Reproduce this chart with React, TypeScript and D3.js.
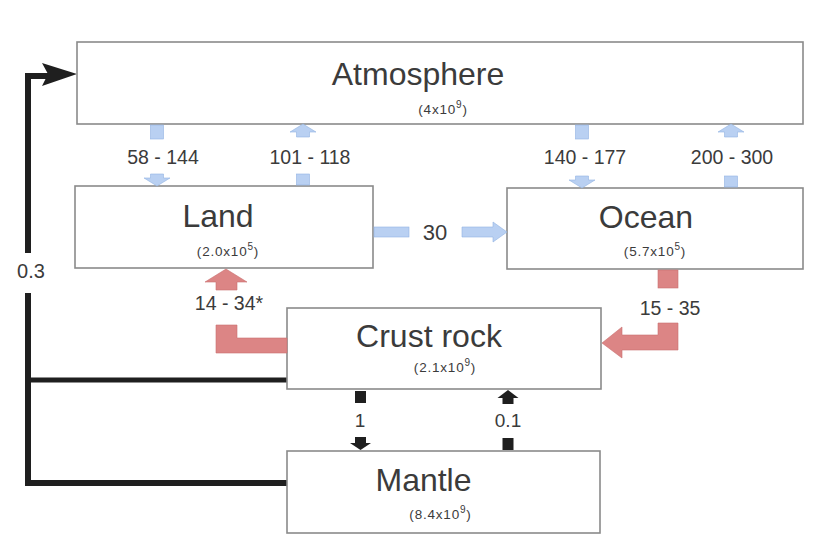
import React from "react";
import * as d3 from "d3";

// ---- data ----
const boxNames = ["Atmosphere", "Land", "Ocean", "Crust rock", "Mantle"];
const reservoirMantissa = ["4", "2.0", "5.7", "2.1", "8.4"];
const reservoirExponent = ["9", "5", "5", "9", "9"];
const blueFlowLabels = ["58 - 144", "101 - 118", "140 - 177", "200 - 300", "30"];
const redFlowLabels = ["14 - 34*", "15 - 35"];
const blackFlowLabels = ["1", "0.1", "0.3"];

// ---- layout ----
const W = 817, H = 554;
const boxes = [
  { x0: 77, y0: 42, x1: 803, y1: 124 },
  { x0: 75, y0: 186, x1: 373, y1: 268 },
  { x0: 507, y0: 188, x1: 803, y1: 269 },
  { x0: 287, y0: 308, x1: 601, y1: 389 },
  { x0: 287, y0: 451, x1: 600, y1: 533 },
];
const titleDy = [43, 41, 40, 39, 40];
const titleDx = [-22, -6, -9, -15, -20];
const subDy = [72, 70, 68, 64, 68];
const subDx = [3, 4, 0, 1, -3];

const BLUE = "#b9d0f2";
const BLUE_S = "#92b3e3";
const RED = "#dc8585";
const RED_S = "#c97070";
const DARK = "#1f1f1f";
const TXT = "#3b3b3b";

const line = d3.line<[number, number]>();
const poly = (pts: [number, number][]) => line(pts) + "Z";

function vHead(cx: number, tip: number, base: number, hw: number, sw: number, stemEnd: number) {
  return poly([
    [cx - sw / 2, stemEnd],
    [cx + sw / 2, stemEnd],
    [cx + sw / 2, base],
    [cx + hw / 2, base],
    [cx, tip],
    [cx - hw / 2, base],
    [cx - sw / 2, base],
  ]);
}

export default function App() {
  const [atm, land, ocean, crust, mantle] = boxes;
  const bx = d3.scaleIdentity();
  const by = d3.scaleIdentity();

  const blueCols = [157, 303, 582, 731];
  const blueDown = [true, false, true, false];

  return (
    <svg width={W} height={H} style={{ position: "absolute", left: 0, top: 0, background: "#fff" }}
      fontFamily="'Liberation Sans', Arial, Helvetica, sans-serif">
      <rect width={W} height={H} fill="#fff" />
      {/* black 0.3 path */}
      <path d={line([[crust.x0, 380], [28, 380]])!} stroke={DARK} strokeWidth={5} fill="none" />
      <path d={line([[mantle.x0, 483], [28, 483], [28, 76], [50, 76]])!} stroke={DARK} strokeWidth={6} fill="none" strokeLinejoin="miter" />
      <path d={poly([[42, 63], [atm.x0, 74], [42, 86], [48, 74]])} fill={DARK} />
      <rect x={10} y={253} width={40} height={40} fill="#fff" />
      <text x={31} y={278} textAnchor="middle" fontSize={20} fill={TXT}>{blackFlowLabels[2]}</text>

      {/* boxes */}
      {boxes.map((b, i) => (
        <g key={i}>
          <rect x={bx(b.x0)} y={by(b.y0)} width={b.x1 - b.x0} height={b.y1 - b.y0}
            fill="#fff" stroke="#8a8a8a" strokeWidth={1.6} />
          <text x={(b.x0 + b.x1) / 2 + titleDx[i]} y={b.y0 + titleDy[i]} textAnchor="middle" fontSize={32} fill={TXT}>{boxNames[i]}</text>
          <text x={(b.x0 + b.x1) / 2 + subDx[i]} y={b.y0 + subDy[i]} textAnchor="middle" fontSize={13.5} letterSpacing={0.8} fill={TXT}>
            ({reservoirMantissa[i]}x10<tspan dy={-6} fontSize={10}>{reservoirExponent[i]}</tspan><tspan dy={6}>)</tspan>
          </text>
        </g>
      ))}

      {/* blue vertical flows */}
      {blueCols.map((cx, i) => {
        const down = blueDown[i];
        const top = atm.y1;
        const bot = i < 2 ? land.y0 : ocean.y0;
        return (
          <g key={i}>
            {down ? (
              <>
                <rect x={cx - 6.5} y={top + 1} width={13} height={14} fill={BLUE} stroke={BLUE_S} strokeWidth={0.6} />
                <path d={vHead(cx, bot, bot - 8, 26, 13, bot - 12)} fill={BLUE} stroke={BLUE_S} strokeWidth={0.6} />
              </>
            ) : (
              <>
                <path d={vHead(cx, top, top + 8, 26, 13, top + 13)} fill={BLUE} stroke={BLUE_S} strokeWidth={0.6} />
                <rect x={cx - 6.5} y={bot - 12} width={13} height={11} fill={BLUE} stroke={BLUE_S} strokeWidth={0.6} />
              </>
            )}
            <text x={[163, 310, 585, 732][i]} y={164} textAnchor="middle" fontSize={19.5} fill={TXT}>{blueFlowLabels[i]}</text>
          </g>
        );
      })}

      {/* blue horizontal 30 */}
      <rect x={land.x1 + 1} y={227} width={35} height={10} fill={BLUE} stroke={BLUE_S} strokeWidth={0.6} />
      <path d={poly([[462, 227], [493, 227], [493, 222], [ocean.x0, 232], [493, 242], [493, 237], [462, 237]])} fill={BLUE} stroke={BLUE_S} strokeWidth={0.6} />
      <text x={435} y={240} textAnchor="middle" fontSize={22} fill={TXT}>{blueFlowLabels[4]}</text>

      {/* red flows */}
      <path d={poly([[205, 282], [226, land.y1 + 1], [247, 282], [237, 282], [237, 290], [216, 290], [216, 282]])} fill={RED} stroke={RED_S} strokeWidth={0.6} />
      <path d={poly([[216, 325], [237, 325], [237, 338], [crust.x0, 338], [crust.x0, 353], [216, 353]])} fill={RED} stroke={RED_S} strokeWidth={0.6} />
      <text x={229} y={310} textAnchor="middle" fontSize={19.5} fill={TXT}>{redFlowLabels[0]}</text>

      <rect x={658} y={ocean.y1 + 1} width={20} height={18} fill={RED} stroke={RED_S} strokeWidth={0.6} />
      <path d={poly([[658, 323], [678, 323], [678, 350], [622, 350], [622, 358], [crust.x1 + 1, 343], [622, 327], [622, 335], [658, 335]])} fill={RED} stroke={RED_S} strokeWidth={0.6} />
      <text x={670} y={315} textAnchor="middle" fontSize={19.5} fill={TXT}>{redFlowLabels[1]}</text>

      {/* black vertical flows */}
      <rect x={355} y={crust.y1 + 2} width={11} height={12} fill={DARK} />
      <path d={vHead(360.5, mantle.y0 - 1, 443, 21, 11, 437)} fill={DARK} />
      <text x={360} y={427} textAnchor="middle" fontSize={19} fill={TXT}>{blackFlowLabels[0]}</text>

      <path d={vHead(508, crust.y1 + 1, 398, 21, 11, 404)} fill={DARK} />
      <rect x={502.5} y={438} width={11} height={12} fill={DARK} />
      <text x={508} y={427} textAnchor="middle" fontSize={19} fill={TXT}>{blackFlowLabels[1]}</text>
    </svg>
  );
}
